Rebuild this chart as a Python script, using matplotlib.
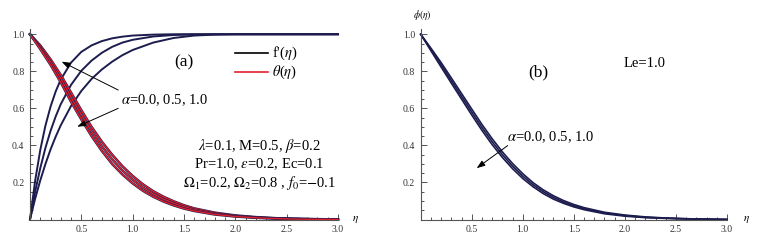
import matplotlib
matplotlib.use("Agg")
import matplotlib.pyplot as plt
from matplotlib.ticker import MultipleLocator

plt.rcParams["font.family"] = ["Liberation Serif", "DejaVu Serif"]
plt.rcParams["mathtext.fontset"] = "stix"

NAVY = "#1c1c4e"
RED = "#e3202c"
AXIS = "#555555"

# f'(eta) for alpha = 0.0, 0.5, 1.0
eta_f = [0, 0.05, 0.1, 0.15, 0.2, 0.25, 0.3, 0.4, 0.5, 0.6, 0.7, 0.8, 0.9, 1.0,
         1.2, 1.4, 1.6, 1.8, 2.0, 2.5, 3.0]
fp_top = [0, 0.209, 0.375, 0.506, 0.609, 0.691, 0.756, 0.847, 0.905, 0.940, 0.963,
          0.978, 0.987, 0.993, 0.998, 1.0, 1.0, 1.0, 1.0, 1.0, 1.0]
fp_mid = [0, 0.150, 0.277, 0.386, 0.478, 0.556, 0.623, 0.727, 0.803, 0.858, 0.900,
          0.932, 0.955, 0.970, 0.988, 0.996, 0.999, 1.0, 1.0, 1.0, 1.0]
fp_bot = [0, 0.112, 0.211, 0.299, 0.378, 0.447, 0.509, 0.613, 0.694, 0.759, 0.810,
          0.852, 0.887, 0.915, 0.955, 0.980, 0.993, 0.998, 1.0, 1.0, 1.0]

# theta(eta) and phi(eta), three alpha values each
eta_t = [0, 0.1, 0.2, 0.3, 0.4, 0.5, 0.6, 0.7, 0.8, 0.9, 1.0, 1.1, 1.2, 1.3, 1.4,
         1.5, 1.6, 1.8, 2.0, 2.2, 2.4, 2.6, 2.8, 3.0]
theta_hi = [1.0, 0.94, 0.865, 0.78, 0.685, 0.59, 0.50, 0.42, 0.35, 0.288, 0.235, 0.19,
            0.153, 0.123, 0.098, 0.077, 0.06, 0.037, 0.022, 0.013, 0.007, 0.004, 0.002, 0.0]
theta_mid = [1.0, 0.93, 0.85, 0.76, 0.66, 0.565, 0.475, 0.395, 0.325, 0.265, 0.215, 0.172,
             0.138, 0.11, 0.087, 0.068, 0.053, 0.032, 0.019, 0.011, 0.006, 0.003, 0.001, 0.0]
theta_lo = [1.0, 0.92, 0.835, 0.74, 0.635, 0.54, 0.45, 0.37, 0.30, 0.243, 0.195, 0.155,
            0.123, 0.097, 0.076, 0.059, 0.046, 0.027, 0.016, 0.009, 0.005, 0.002, 0.001, 0.0]

phi_hi = [1.0, 0.925, 0.847, 0.764, 0.680, 0.596, 0.513, 0.436, 0.365, 0.302, 0.247, 0.199,
          0.160, 0.128, 0.102, 0.081, 0.064, 0.039, 0.024, 0.014, 0.008, 0.004, 0.002, 0.0]
phi_mid = [1.0, 0.918, 0.835, 0.750, 0.665, 0.580, 0.497, 0.420, 0.350, 0.288, 0.234, 0.188,
           0.150, 0.119, 0.094, 0.074, 0.058, 0.035, 0.021, 0.012, 0.007, 0.004, 0.002, 0.0]
phi_lo = [1.0, 0.911, 0.823, 0.736, 0.650, 0.564, 0.481, 0.404, 0.335, 0.274, 0.221, 0.177,
          0.140, 0.110, 0.087, 0.068, 0.053, 0.031, 0.018, 0.010, 0.006, 0.003, 0.001, 0.0]

XTICKS = [0.5, 1.0, 1.5, 2.0, 2.5, 3.0]
YTICKS = [0.2, 0.4, 0.6, 0.8, 1.0]

W, H = 761, 247
fig = plt.figure(figsize=(W / 100, H / 100), dpi=100)
axa = fig.add_axes([30 / W, 27.5 / H, 308 / W, 190.8 / H])
axb = fig.add_axes([420.7 / W, 27.5 / H, 306.3 / W, 190.8 / H])


def style_axes(ax):
    ax.set_xlim(0, 3.0)
    ax.set_ylim(0, 1.03)
    for s in ("top", "right"):
        ax.spines[s].set_visible(False)
    for s in ("left", "bottom"):
        ax.spines[s].set_color(AXIS)
        ax.spines[s].set_linewidth(0.8)
    ax.set_xticks(XTICKS)
    ax.set_yticks(YTICKS)
    ax.set_xticklabels([f"{v:.1f}" for v in XTICKS])
    ax.set_yticklabels([f"{v:.1f}" for v in YTICKS])
    ax.xaxis.set_minor_locator(MultipleLocator(0.1))
    ax.yaxis.set_minor_locator(MultipleLocator(0.05))
    ax.tick_params(which="both", direction="in", color=AXIS, width=0.7,
                   labelsize=7, labelcolor="#333333")
    ax.tick_params(which="major", length=4, pad=4)
    ax.tick_params(which="minor", length=2.2)
    ax.patch.set_visible(False)


style_axes(axa)
style_axes(axb)

FS = 10.5

# panel (a)
for fp in (fp_top, fp_mid, fp_bot):
    axa.plot(eta_f, fp, color=NAVY, lw=1.4, clip_on=False)
for th in (theta_hi, theta_mid, theta_lo):
    axa.plot(eta_t, th, color=NAVY, lw=1.8, clip_on=False)
    axa.plot(eta_t, th, color=RED, lw=1.0, clip_on=False)

axa.text(1.50, 0.85, "(a)", fontsize=12.5, ha="center", va="center")
axa.plot([1.994, 2.315], [0.899, 0.899], color="black", lw=1.2)
axa.plot([1.994, 2.315], [0.796, 0.796], color=RED, lw=1.2)
axa.text(2.354, 0.899, r"f'($\eta$)", fontsize=FS, va="center")
axa.text(2.354, 0.796, r"$\theta$($\eta$)", fontsize=FS, va="center")
axa.text(0.89, 0.645, r"$\alpha$=0.0, 0.5, 1.0", fontsize=FS, va="center")
arrow = dict(arrowstyle="-|>,head_length=0.5,head_width=0.18", color="black", lw=0.7,
             shrinkA=0, shrinkB=0)
axa.annotate("", xy=(0.308, 0.852), xytext=(0.859, 0.699), arrowprops=arrow)
axa.annotate("", xy=(0.46, 0.501), xytext=(0.859, 0.600), arrowprops=arrow)
axa.text(2.23, 0.397, r"$\lambda$=0.1, M=0.5, $\beta$=0.2", fontsize=FS,
         ha="center", va="center")
axa.text(2.23, 0.300, r"Pr=1.0, $\varepsilon$=0.2, Ec=0.1", fontsize=FS,
         ha="center", va="center")
axa.text(2.23, 0.197, r"$\Omega_1$=0.2, $\Omega_2$=0.8 , $f_0$=$-$0.1", fontsize=FS,
         ha="center", va="center")
axa.text(3.17, 0.0, r"$\eta$", fontsize=8, ha="center", va="center", clip_on=False)

# panel (b)
for ph in (phi_hi, phi_mid, phi_lo):
    axb.plot(eta_t, ph, color=NAVY, lw=1.2, clip_on=False)
axb.text(1.152, 0.795, "(b)", fontsize=12.5, ha="center", va="center")
axb.text(2.197, 0.843, "Le=1.0", fontsize=FS, ha="center", va="center")
axb.text(0.842, 0.447, r"$\alpha$=0.0, 0.5, 1.0", fontsize=FS, va="center")
axb.annotate("", xy=(0.548, 0.277), xytext=(0.852, 0.399), arrowprops=arrow)
axb.text(0.02, 1.105, r"$\phi(\eta)$", fontsize=7, ha="center", va="center",
         clip_on=False)
axb.text(3.19, 0.0, r"$\eta$", fontsize=8, ha="center", va="center", clip_on=False)

fig.savefig("out.png", dpi=100)
